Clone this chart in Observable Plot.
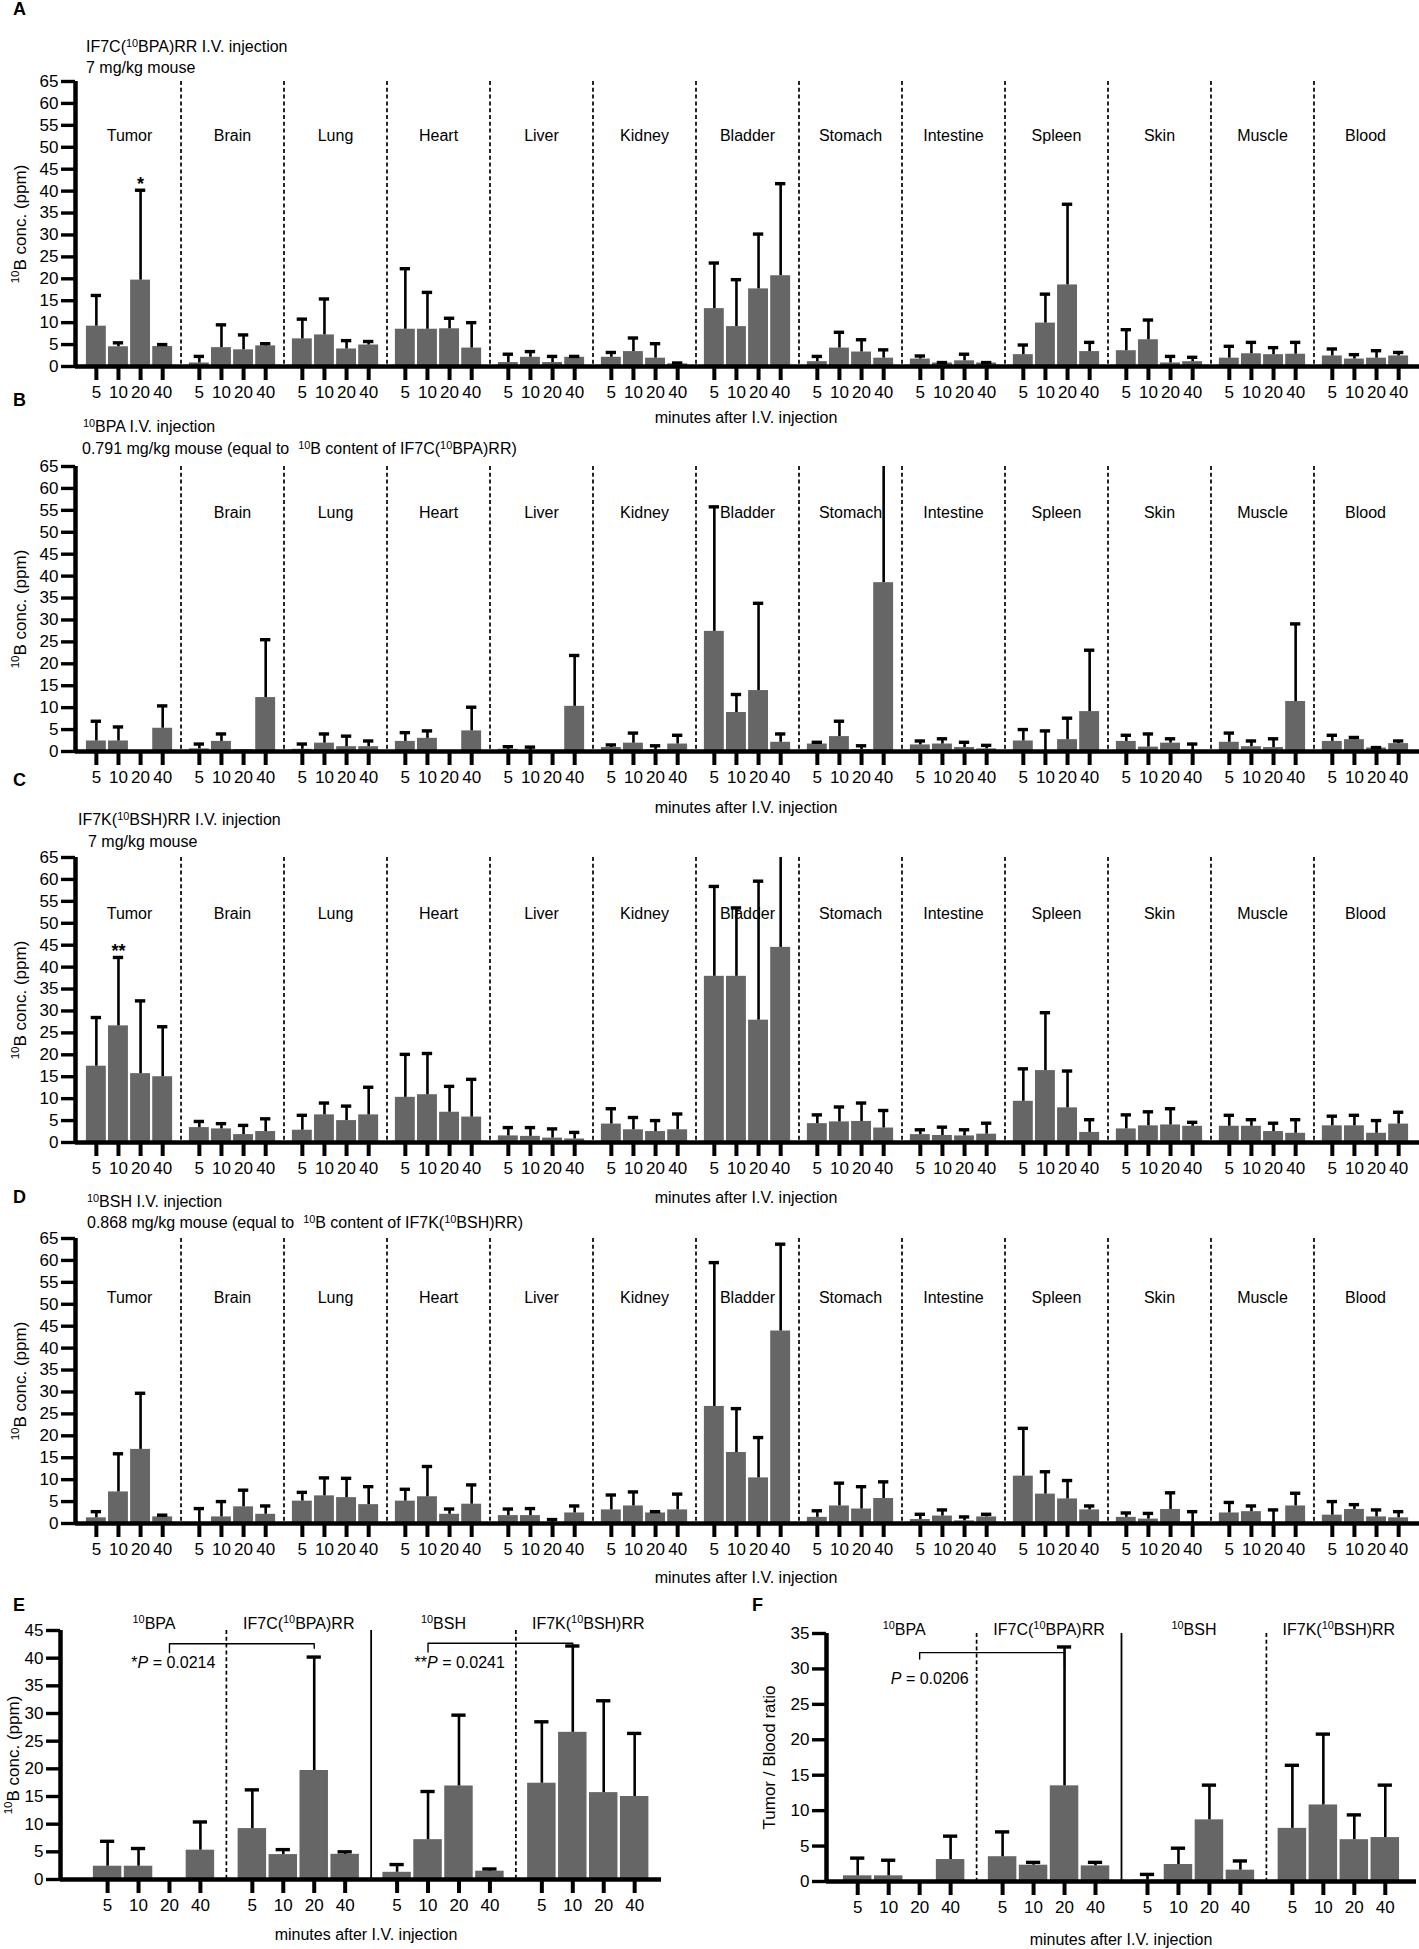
<!DOCTYPE html>
<html><head><meta charset="utf-8">
<script src="https://cdn.jsdelivr.net/npm/d3@7"></script>
<script src="https://cdn.jsdelivr.net/npm/@observablehq/plot@0.6"></script>
<style>
body{margin:0;background:#fff;font-family:"Liberation Sans",Arial,Helvetica,sans-serif;color:#000}
#page{position:relative;width:1419px;height:1949px;overflow:hidden;background:#fff}
.abs{position:absolute;white-space:nowrap;line-height:1}
.letter{font-weight:bold;font-size:18px}
.t{font-size:16px}
sup{font-size:68%;vertical-align:baseline;position:relative;top:-0.5em}
</style></head>
<body><div id="page"></div>
<script>
const organs = ["Tumor","Brain","Lung","Heart","Liver","Kidney","Bladder","Stomach","Intestine","Spleen","Skin","Muscle","Blood"];
const times = ["5","10","20","40"];

// Panel A: IF7C(10BPA)RR, mean and upper end of error bar (ppm), rows = organs, cols = times
const aMean = [[9.2,4.5,19.7,4.55],[0.8,4.3,3.8,4.7],[6.3,7.2,4.0,4.9],[8.5,8.5,8.6,4.2],[0.9,2.1,0.9,2.1],[2.1,3.4,1.9,0.6],[13.2,9.1,17.7,20.7],[1.1,4.2,3.3,1.9],[1.7,0.8,1.3,0.8],[2.7,9.9,18.6,3.4],[3.6,6.1,0.8,1.1],[1.9,2.9,2.7,2.8],[2.4,1.7,1.9,2.4]];
const aUpper = [[16.2,5.4,40.2,5.0],[2.3,9.5,7.2,5.2],[10.8,15.4,5.9,5.7],[22.3,16.9,11.0,10.0],[2.8,3.4,2.3,2.3],[3.2,6.5,5.2,0.8],[23.6,19.8,30.2,41.7],[2.3,7.8,6.1,3.8],[2.4,0.9,2.8,0.9],[4.9,16.5,37.0,5.5],[8.4,10.6,2.3,2.1],[4.6,5.5,4.3,5.5],[4.0,2.7,3.6,3.2]];
// Panel B: 10BPA
const bMean = [[2.4,2.4,0,5.3],[0.6,2.3,0.4,12.3],[0.5,1.9,1.1,1.1],[2.3,3.0,0,4.7],[0.5,0,0,10.3],[0.9,1.9,0.4,1.7],[27.4,8.9,13.9,2.1],[1.7,3.4,0.4,38.5],[1.5,1.7,0.9,0.6],[2.4,0,2.7,9.1],[2.3,1.0,1.9,0],[2.1,1.1,0.9,11.4],[2.3,2.7,0.8,1.8]];
const bUpper = [[6.9,5.6,0,10.4],[1.7,4.0,0.4,25.5],[1.7,4.0,3.5,2.4],[4.3,4.7,0,10.1],[1.1,1.0,0,21.9],[1.5,4.2,1.3,3.7],[55.8,13.0,33.8,4.0],[2.1,6.9,1.3,72],[2.4,2.9,2.1,1.4],[5.0,4.7,7.6,23.1],[3.7,4.0,2.9,1.7],[4.2,2.4,2.9,29.1],[3.7,3.2,0.9,2.4]];
// Panel C: IF7K(10BSH)RR
const cMean = [[17.4,26.6,15.7,15.0],[3.4,3.1,1.8,2.5],[2.8,6.3,5.0,6.3],[10.3,10.9,6.9,5.8],[1.5,1.4,1.0,0.8],[4.2,2.9,2.5,2.9],[37.9,37.9,27.9,44.5],[4.3,4.7,4.8,3.3],[1.8,1.6,1.5,1.9],[9.4,16.4,7.9,2.3],[3.1,3.8,4.0,3.7],[3.7,3.7,2.5,2.1],[3.8,3.8,2.1,4.2]];
const cUpper = [[28.5,42.2,32.3,26.4],[4.8,4.3,3.9,5.4],[6.2,9.0,8.3,12.6],[20.1,20.3,12.8,14.4],[3.4,3.4,3.1,2.3],[7.7,5.7,5.0,6.5],[58.4,53.5,59.6,80],[6.3,8.1,9.0,7.3],[2.9,3.5,2.9,4.4],[16.8,29.6,16.3,5.2],[6.3,7.0,7.7,4.6],[6.2,5.2,4.4,5.2],[6.0,6.2,5.0,6.9]];
// Panel D: 10BSH
const dMean = [[1.3,7.2,16.9,1.5],[0,1.5,3.8,2.1],[5.1,6.3,5.9,4.3],[5.1,6.1,2.1,4.4],[1.8,1.8,0.2,2.4],[3.1,4.0,2.4,3.1],[26.7,16.2,10.4,43.9],[1.4,4.0,3.3,5.7],[0.9,1.7,0.6,1.5],[10.8,6.7,5.6,3.1],[1.4,1.0,3.2,0],[2.4,2.7,0,4.0],[1.9,3.2,1.5,1.3]];
const dUpper = [[2.7,15.9,29.7,1.9],[3.4,5.0,7.6,4.0],[7.1,10.4,10.3,8.4],[7.8,13.0,3.3,8.8],[3.3,3.4,0.9,4.0],[6.5,7.2,2.7,6.7],[59.5,26.2,19.6,63.7],[2.9,9.2,8.4,9.5],[2.1,3.1,1.5,2.1],[21.7,11.8,9.8,4.0],[2.4,2.3,7.0,2.7],[4.8,4.0,3.1,6.9],[5.0,4.3,3.1,2.7]];

// Panels E and F
const compounds = ["¹⁰BPA","IF7C(¹⁰BPA)RR","¹⁰BSH","IF7K(¹⁰BSH)RR"];
const eMean = [bMean[0], aMean[0], dMean[0], cMean[0]];
const eUpper = [bUpper[0], aUpper[0], dUpper[0], cUpper[0]];
const fMean = [[0.8,0.8,0,3.1],[3.5,2.3,13.5,2.2],[0.2,2.4,8.7,1.6],[7.5,10.8,5.9,6.2]];
const fUpper = [[3.3,3.0,0,6.4],[7.0,2.7,33.1,2.7],[1.0,4.7,13.6,2.9],[16.4,20.8,9.4,13.6]];
const compoundDividers = ["dashed","solid","dashed"];
const eBrackets = [{from:[0,"20"],to:[1,"20"],y:42.6,dropL:1.6,dropR:0.8},{from:[2,"10"],to:[3,"10"],y:42.7,dropL:1.6,dropR:0.6}];
const ePText = [{after:0,y:39.2,text:"*P = 0.0214"},{after:2,y:39.2,text:"**P = 0.0241"}];
const fBrackets = [{from:[0,"20"],to:[1,"20"],y:32.3,dropL:0.9,dropR:1.9}];
const fPText = [{after:0,y:28.6,text:"P = 0.0206"}];

const fontFamily = '"Liberation Sans", Arial, Helvetica, sans-serif';
const page = document.getElementById("page");

function barPanel(c) {
  const group = d3.scaleBand(c.cats, [0, 1]).paddingInner(c.pi).paddingOuter(c.po).align(c.align);
  const sub = d3.scaleBand(times, [0, group.bandwidth()]).padding(c.subPad);
  const bw = sub.bandwidth();
  const rows = c.cats.flatMap((g, i) => times.map((t, j) => {
    const x1 = group(g) + sub(t);
    return {g, t, mean: c.mean[i][j], upper: c.upper[i][j], x1, x2: x1 + bw, xc: x1 + bw / 2};
  }));
  const find = (gi, t) => rows.find(r => r.g === c.cats[gi] && r.t === t);
  const errs = rows.filter(r => r.upper > r.mean);
  const capHalf = bw * c.cap;
  const bounds = c.cats.slice(1).map((g, i) => ({x: group(g) - group.step() * c.pi / 2, kind: c.dividerKinds ? c.dividerKinds[i] : "dashed"}));
  const tickLab = new Map(rows.map(r => [r.xc, r.t]));
  const labels = c.cats.map(g => ({g, x: group(g) + group.bandwidth() / 2})).filter(d => c.labelCats.includes(d.g));
  const stars = (c.stars || []).map(s => { const r = find(c.cats.indexOf(s.g), s.t); return {x: r.xc, y: r.upper, text: s.text}; });
  const bracketPts = (c.brackets || []).flatMap((b, k) => {
    const L = find(b.from[0], b.from[1]).xc, R = find(b.to[0], b.to[1]).xc;
    return [{k, x: L, y: b.y - b.dropL}, {k, x: L, y: b.y}, {k, x: R, y: b.y}, {k, x: R, y: b.y - b.dropR}];
  });
  const pTexts = (c.pTexts || []).map(p => ({x: bounds[p.after].x, y: p.y, text: p.text}));
  return Plot.plot({
    width: c.width, height: c.MT + c.FH + c.MB,
    marginLeft: c.ML, marginRight: c.MR, marginTop: c.MT, marginBottom: c.MB,
    style: {fontFamily, fontSize: "16px", background: "transparent", overflow: "visible", color: "black"},
    x: {type: "linear", domain: [0, 1]},
    y: {domain: [0, c.yMax]},
    marks: [
      Plot.rectY(rows, {x1: "x1", x2: "x2", y1: 0, y2: "mean", fill: "#666666"}),
      Plot.ruleX(errs, {x: "xc", y1: "mean", y2: "upper", strokeWidth: 2.6, stroke: "black", clip: true}),
      Plot.ruleY(errs, {x1: d => d.xc - capHalf, x2: d => d.xc + capHalf, y: "upper", strokeWidth: 3.4, stroke: "black", clip: true}),
      Plot.ruleX(bounds.filter(d => d.kind === "dashed"), {x: "x", stroke: "black", strokeWidth: 1.7, strokeDasharray: "4,2.8"}),
      Plot.ruleX(bounds.filter(d => d.kind === "solid"), {x: "x", stroke: "black", strokeWidth: 1.8}),
      Plot.text(labels, {x: "x", text: "g", frameAnchor: "top", dy: c.labelDy, fontSize: 16}),
      Plot.text(stars, {x: "x", y: "y", text: "text", lineAnchor: "bottom", dy: 0, fontSize: 18, fontWeight: "bold"}),
      Plot.line(bracketPts, {x: "x", y: "y", z: "k", stroke: "black", strokeWidth: 1.4}),
      Plot.text(pTexts, {x: "x", y: "y", text: "text", textAnchor: "end", dx: c.pDx, fontSize: 16}),
      Plot.axisY({ticks: d3.range(0, c.yMax + 1, 5), tickSize: 14, tickPadding: 3, strokeWidth: 3.4, fontSize: 17,
        label: c.yLabel, labelAnchor: "center", labelArrow: "none", labelOffset: c.labelOffset}),
      Plot.axisX({ticks: rows.map(r => r.xc), tickFormat: d => tickLab.get(d), tickSize: 14, tickPadding: 5, strokeWidth: 4, fontSize: 17, label: null}),
      Plot.ruleY([0], {stroke: "black", strokeWidth: 4.5}),
      Plot.ruleX([0], {stroke: "black", strokeWidth: 4.5})
    ]
  });
}

function put(node, left, top) {
  node.style.position = "absolute";
  node.style.left = left + "px";
  node.style.top = top + "px";
  page.appendChild(node);
}
function txt(html, x, cy, cls, center) {
  const d = document.createElement("div");
  d.className = "abs " + cls;
  d.innerHTML = html;
  d.style.left = x + "px";
  d.style.top = cy + "px";
  d.style.transform = center ? "translate(-50%,-50%)" : "translateY(-50%)";
  page.appendChild(d);
}
function richText(svg) {
  svg.querySelectorAll("text, tspan").forEach(el => {
    if (el.children.length) return;
    const s = el.textContent;
    if (!/¹⁰|P =/.test(s)) return;
    const fs = parseFloat(getComputedStyle(el).fontSize) || 16;
    el.textContent = "";
    const parts = s.split(/(¹⁰|P(?= =))/);
    let raised = false;
    for (const p of parts) {
      if (!p) continue;
      const ts = document.createElementNS("http://www.w3.org/2000/svg", "tspan");
      if (p === "¹⁰") {
        ts.textContent = "10";
        ts.setAttribute("style", "font-size:" + (fs * 0.68) + "px");
        ts.setAttribute("dy", -fs * 0.38);
        raised = true;
      } else {
        ts.textContent = p;
        if (p === "P") ts.setAttribute("font-style", "italic");
        if (raised) { ts.setAttribute("dy", fs * 0.38); raised = false; }
      }
      el.appendChild(ts);
    }
  });
}

const organCfg = {cats: organs, width: 1419, ML: 75, MR: 0, MT: 12, FH: 285, MB: 50, yMax: 65,
  pi: 0.12, po: 0.0845, align: 0.5, subPad: 0.1, cap: 0.26, yLabel: "¹⁰B conc. (ppm)", labelOffset: 62, pDx: -9};

const panels = [
  {svg: barPanel({...organCfg, mean: aMean, upper: aUpper, labelCats: organs, labelDy: 48, stars: [{g: "Tumor", t: "20", text: "*"}]}), top: 81 - 12, left: 0},
  {svg: barPanel({...organCfg, mean: bMean, upper: bUpper, labelCats: organs.slice(1), labelDy: 40}), top: 466 - 12, left: 0},
  {svg: barPanel({...organCfg, mean: cMean, upper: cUpper, labelCats: organs, labelDy: 50, stars: [{g: "Tumor", t: "10", text: "**"}]}), top: 857 - 12, left: 0},
  {svg: barPanel({...organCfg, mean: dMean, upper: dUpper, labelCats: organs, labelDy: 53}), top: 1238 - 12, left: 0},
  {svg: barPanel({cats: compounds, mean: eMean, upper: eUpper, width: 680, ML: 60, MR: 19, MT: 30, FH: 249, MB: 45, yMax: 45,
    pi: 0.128, po: 0.14, align: 0.75, subPad: 0.08, cap: 0.25, labelCats: compounds, labelDy: -13, dividerKinds: compoundDividers,
    brackets: eBrackets, pTexts: ePText, pDx: -11, yLabel: "¹⁰B conc. (ppm)", labelOffset: 54}), top: 1630 - 30, left: 0},
  {svg: barPanel({cats: compounds, mean: fMean, upper: fUpper, width: 719, ML: 126, MR: 3, MT: 30, FH: 248, MB: 45, yMax: 35,
    pi: 0.128, po: 0.1, align: 0.5, subPad: 0.08, cap: 0.25, labelCats: compounds, labelDy: -10, dividerKinds: compoundDividers,
    brackets: fBrackets, pTexts: fPText, pDx: -8, yLabel: "Tumor / Blood ratio", labelOffset: 64}), top: 1633 - 30, left: 700}
];
for (const p of panels) { put(p.svg, p.left, p.top); richText(p.svg); }

const xTitle = "minutes after I.V. injection";
txt("A", 13, 9, "letter");
txt("IF7C(<sup>10</sup>BPA)RR I.V. injection", 86, 47, "t");
txt("7 mg/kg mouse", 86, 68, "t");
txt(xTitle, 746, 418, "t", true);
txt("B", 13, 400, "letter");
txt("<sup>10</sup>BPA I.V. injection", 83, 427, "t");
txt("0.791 mg/kg mouse (equal to &nbsp;<sup>10</sup>B content of IF7C(<sup>10</sup>BPA)RR)", 82, 449, "t");
txt(xTitle, 746, 808, "t", true);
txt("C", 13, 780, "letter");
txt("IF7K(<sup>10</sup>BSH)RR I.V. injection", 78, 820, "t");
txt("7 mg/kg mouse", 88, 842, "t");
txt(xTitle, 746, 1198, "t", true);
txt("D", 13, 1197, "letter");
txt("<sup>10</sup>BSH I.V. injection", 87, 1202, "t");
txt("0.868 mg/kg mouse (equal to &nbsp;<sup>10</sup>B content of IF7K(<sup>10</sup>BSH)RR)", 87, 1223, "t");
txt(xTitle, 746, 1578, "t", true);
txt("E", 13, 1605, "letter");
txt(xTitle, 366, 1935, "t", true);
txt("F", 752, 1605, "letter");
txt(xTitle, 1121, 1940, "t", true);
</script>
</body></html>
